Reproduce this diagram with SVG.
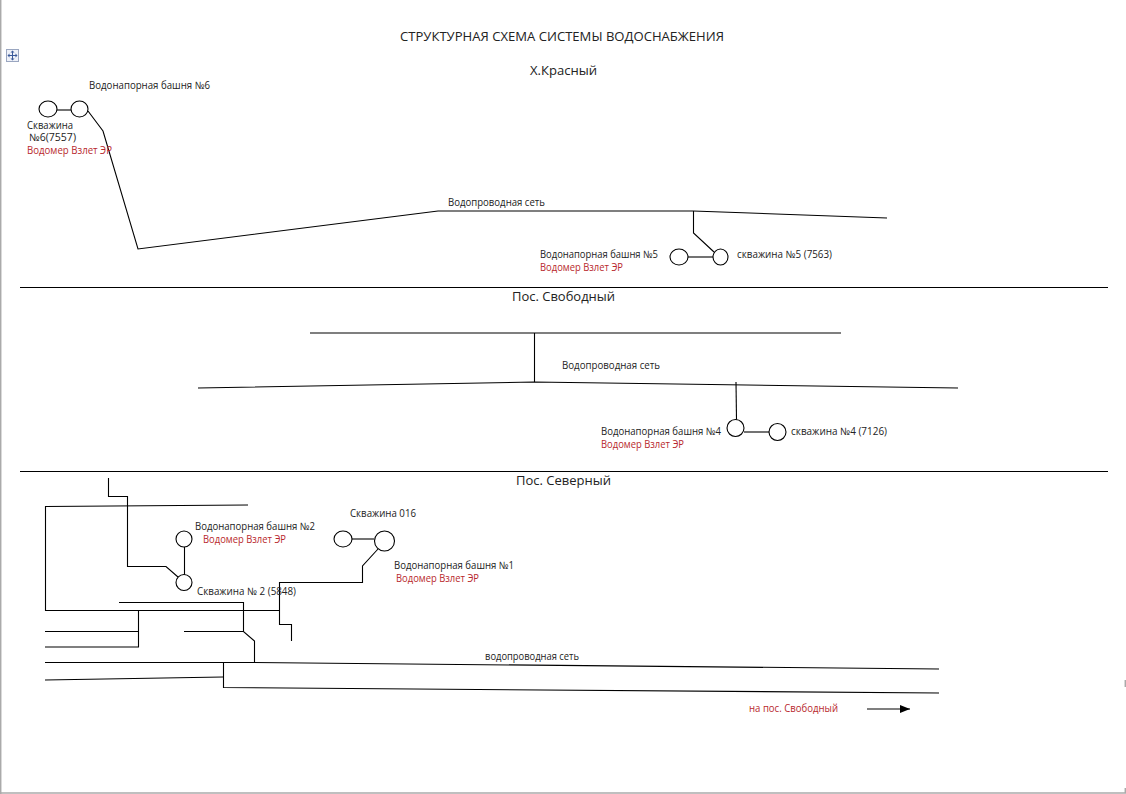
<svg xmlns="http://www.w3.org/2000/svg" width="1126" height="794" viewBox="0 0 1126 794">
<style>
text{font-family:"Open Sans","Noto Sans","Liberation Sans",sans-serif;font-size:10px;fill:#222}
.h{font-size:12.5px}
.r{fill:#b8282d}
.l{fill:none;stroke:#000;stroke-width:1.1}
.n{fill:#fff;stroke:#000;stroke-width:1.1}
</style>
<defs><marker id="a" markerWidth="11" markerHeight="8" refX="10" refY="4" orient="auto" markerUnits="userSpaceOnUse"><path d="M0 0L10 4L0 8Z" fill="#000"/></marker></defs>
<rect width="1126" height="794" fill="#fff"/>
<g id="frame" fill="none" stroke="#aaa" stroke-width="1.5"><path d="M0.7 0V794M0 793H1126"/><path d="M1125.3 680v7M1125.3 788v5"/></g>
<g id="move-handle"><rect x="6.500" y="49.500" width="12" height="12" fill="#eef1f8" stroke="#9aa6c0"/><path d="M12.500 51.500v8M8.500 55.500h8" stroke="#3a5a9a" stroke-width="1"/><path d="M12.500 50.500l-2 2h4zM12.500 60.500l-2-2h4zM7.500 55.500l2-2v4zM17.500 55.500l-2-2v4z" fill="#3a5a9a"/></g>
<g id="connectors">
<path class="l" d="M57 110H71"/>
<path class="l" d="M88 111L103 131L138 249L438 211H693L887 218"/>
<path class="l" d="M693.500 211V233L714 252"/>
<path class="l" d="M688 257H713"/>
<path class="l" d="M20 287.500H1108"/>
<path class="l" d="M310 333H841"/>
<path class="l" d="M534.500 333V382"/>
<path class="l" d="M198 388L534 382L958 388"/>
<path class="l" d="M736 382L736.500 420"/>
<path class="l" d="M744 432H769"/>
<path class="l" d="M20 471.500H1108"/>
<path class="l" d="M108.500 478V496.500H127.500V566.500H166L178 577"/>
<path class="l" d="M248 505L45.500 506.500V610.500H279"/>
<path class="l" d="M184.500 547V575"/>
<path class="l" d="M119 602.500H243.500V631.500"/>
<path class="l" d="M184 631.500H243.500L254.500 641V662"/>
<path class="l" d="M138.500 610.500V647H45"/>
<path class="l" d="M45 631.500H138.500"/>
<path class="l" d="M45 662.500H254L939 669"/>
<path class="l" d="M45 680L223 677"/>
<path class="l" d="M223.500 662.500V687.500L939 693"/>
<path class="l" d="M291.500 641V624.500H279.500V582.500H362.500V566L378 549"/>
<path class="l" d="M352 539H374"/>
<path class="l" d="M867 709H910" marker-end="url(#a)"/>
</g>
<g id="title"><text class="h" x="400" y="41" textLength="324" lengthAdjust="spacingAndGlyphs">СТРУКТУРНАЯ СХЕМА СИСТЕМЫ ВОДОСНАБЖЕНИЯ</text></g>
<g id="section-krasny"><text class="h" x="530" y="75" textLength="67" lengthAdjust="spacingAndGlyphs">Х.Красный</text></g>
<g id="section-svobodny"><text class="h" x="512" y="301" textLength="103" lengthAdjust="spacingAndGlyphs">Пос. Свободный</text></g>
<g id="section-severny"><text class="h" x="516" y="485" textLength="95" lengthAdjust="spacingAndGlyphs">Пос. Северный</text></g>
<g id="well-6"><ellipse class="n" cx="48" cy="109" rx="9" ry="8"/><text x="27" y="129" textLength="46" lengthAdjust="spacingAndGlyphs">Скважина</text><text x="29" y="141" textLength="47" lengthAdjust="spacingAndGlyphs">№6(7557)</text></g>
<g id="tower-6"><ellipse class="n" cx="79.500" cy="109" rx="8.500" ry="8"/><text x="89" y="89" textLength="121" lengthAdjust="spacingAndGlyphs">Водонапорная башня №6</text><text class="r" x="27" y="154" textLength="85" lengthAdjust="spacingAndGlyphs">Водомер Взлет ЭР</text></g>
<g id="net-krasny"><text x="448" y="206" textLength="97" lengthAdjust="spacingAndGlyphs">Водопроводная сеть</text></g>
<g id="tower-5"><ellipse class="n" cx="679" cy="257" rx="9" ry="8"/><text x="540" y="258" textLength="118" lengthAdjust="spacingAndGlyphs">Водонапорная башня №5</text><text class="r" x="540" y="271" textLength="83" lengthAdjust="spacingAndGlyphs">Водомер Взлет ЭР</text></g>
<g id="well-5"><ellipse class="n" cx="720.500" cy="257" rx="7.500" ry="8"/><text x="737" y="258" textLength="95" lengthAdjust="spacingAndGlyphs">скважина №5 (7563)</text></g>
<g id="net-svobodny"><text x="562" y="369" textLength="98" lengthAdjust="spacingAndGlyphs">Водопроводная сеть</text></g>
<g id="tower-4"><ellipse class="n" cx="735.500" cy="428" rx="8.500" ry="8.500"/><text x="601" y="435" textLength="120" lengthAdjust="spacingAndGlyphs">Водонапорная башня №4</text><text class="r" x="601" y="448" textLength="83" lengthAdjust="spacingAndGlyphs">Водомер Взлет ЭР</text></g>
<g id="well-4"><circle class="n" cx="777.500" cy="432" r="8.500"/><text x="791" y="435" textLength="96" lengthAdjust="spacingAndGlyphs">скважина №4 (7126)</text></g>
<g id="tower-2"><circle class="n" cx="184" cy="539" r="8"/><text x="195" y="530" textLength="120" lengthAdjust="spacingAndGlyphs">Водонапорная башня №2</text><text class="r" x="203" y="543" textLength="83" lengthAdjust="spacingAndGlyphs">Водомер Взлет ЭР</text></g>
<g id="well-2"><circle class="n" cx="184" cy="582.500" r="8"/><text x="197" y="595" textLength="99" lengthAdjust="spacingAndGlyphs">Скважина № 2 (5848)</text></g>
<g id="well-016"><ellipse class="n" cx="343" cy="539" rx="9" ry="8"/><text x="350" y="517" textLength="66" lengthAdjust="spacingAndGlyphs">Скважина 016</text></g>
<g id="tower-1"><circle class="n" cx="384.500" cy="541" r="10"/><text x="394" y="569" textLength="120" lengthAdjust="spacingAndGlyphs">Водонапорная башня №1</text><text class="r" x="396" y="582" textLength="83" lengthAdjust="spacingAndGlyphs">Водомер Взлет ЭР</text></g>
<g id="net-severny"><text x="485" y="660" textLength="94" lengthAdjust="spacingAndGlyphs">водопроводная сеть</text></g>
<g id="to-svobodny"><text class="r" x="749" y="712" textLength="89" lengthAdjust="spacingAndGlyphs">на пос. Свободный</text></g>
</svg>
